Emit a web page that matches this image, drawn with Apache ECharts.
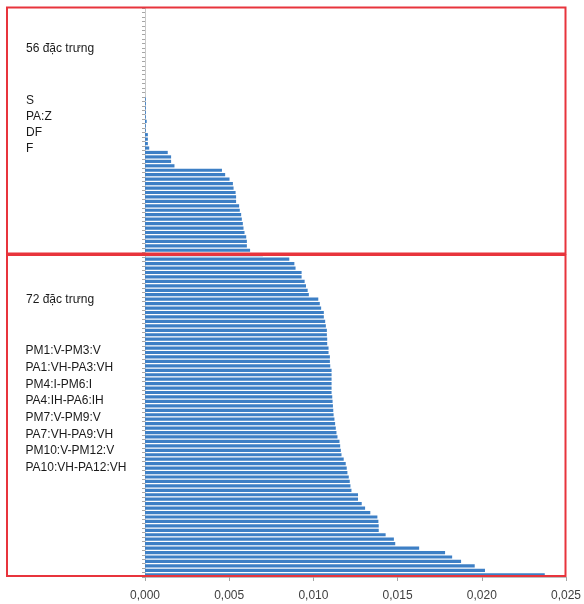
<!DOCTYPE html>
<html>
<head>
<meta charset="utf-8">
<script src="https://cdn.jsdelivr.net/npm/echarts/dist/echarts.min.js"></script>
<style>
  html, body { margin: 0; padding: 0; background: #ffffff; }
  #chart { width: 584px; height: 604px; }
</style>
</head>
<body>
<div id="chart"></div>
<script>
// Feature importance scores, sorted ascending (top of the chart = smallest).
// First block: the 56 weakest features.
const group56 = [
  0, 0, 0, 0, 0, 0, 0, 0, 0, 0,
  0, 0, 0, 0, 0, 0, 0, 0, 0, 0,
  0.00005, 0.00005, 0.00005, 0.00005, 0.00005, 0.00010, 0.00005, 0.00005,
  0.00017, 0.00017, 0.00017, 0.00025,
  0.00135, 0.00155, 0.00155, 0.00175,
  0.00457, 0.00476, 0.00502, 0.00522, 0.00526, 0.00538, 0.00541, 0.00541,
  0.00559, 0.00563, 0.00571, 0.00575, 0.00581, 0.00585, 0.00591, 0.00601,
  0.00605, 0.00605, 0.00624, 0.00700
];
// Second block: the 72 strongest features.
const group72 = [
  0.00857, 0.00887, 0.00894, 0.00930, 0.00930, 0.00948, 0.00956, 0.00966, 0.00973,
  0.01029, 0.01038, 0.01046, 0.01062, 0.01062, 0.01070, 0.01074, 0.01080, 0.01080,
  0.01082, 0.01082, 0.01090, 0.01090, 0.01098, 0.01098, 0.01100, 0.01108, 0.01108,
  0.01108, 0.01108, 0.01108, 0.01108, 0.01112, 0.01114, 0.01116, 0.01118, 0.01120,
  0.01125, 0.01129, 0.01133, 0.01137, 0.01143, 0.01155, 0.01159, 0.01163, 0.01167,
  0.01180, 0.01192, 0.01198, 0.01202, 0.01210, 0.01216, 0.01220, 0.01226, 0.01265,
  0.01265, 0.01287, 0.01307, 0.01338, 0.01380, 0.01386, 0.01388, 0.01388, 0.01429,
  0.01478, 0.01486, 0.01628, 0.01782, 0.01824, 0.01877, 0.01958, 0.02019, 0.02374
];

const values = group56.concat(group72);
const featureIds = values.map((_, i) => 'f' + (i + 1));

// x axis scale
const xMin = 0;
const xMax = 0.025;
const xStep = 0.005;

// Annotation texts for each block
const titleTop = '56 đặc trưng';
const namesTop = ['S', 'PA:Z', 'DF', 'F'];
const titleBottom = '72 đặc trưng';
const namesBottom = [
  'PM1:V-PM3:V', 'PA1:VH-PA3:VH', 'PM4:I-PM6:I', 'PA4:IH-PA6:IH',
  'PM7:V-PM9:V', 'PA7:VH-PA9:VH', 'PM10:V-PM12:V', 'PA10:VH-PA12:VH'
];

const FONT = "'Liberation Sans', Arial, sans-serif";
const RED = '#e8343c';

const chart = echarts.init(document.getElementById('chart'), null, { renderer: 'canvas' });

chart.setOption({
  animation: false,
  backgroundColor: '#ffffff',
  grid: { left: 145, right: 17, top: 8, bottom: 27, containLabel: false },
  xAxis: {
    type: 'value',
    min: xMin,
    max: xMax,
    interval: xStep,
    splitLine: { show: false },
    axisLine: { show: true, lineStyle: { color: '#bfbfbf', width: 1 } },
    axisTick: { show: true, length: 4, lineStyle: { color: '#a6a6a6' } },
    axisLabel: {
      margin: 13,
      fontSize: 12,
      fontFamily: FONT,
      color: '#404040',
      formatter: v => v.toFixed(3).replace('.', ',')
    }
  },
  yAxis: {
    type: 'category',
    inverse: true,
    data: featureIds,
    axisLine: { show: true, lineStyle: { color: '#c8c8c8', width: 1 } },
    axisTick: { show: true, length: 3, interval: 0, lineStyle: { color: '#a6a6a6' } },
    axisLabel: { show: false },
    splitLine: { show: false }
  },
  series: [{
    type: 'bar',
    data: values,
    barCategoryGap: '28%',
    itemStyle: { color: '#3d7fc5' },
    silent: true
  }]
});

// Frames around the two feature blocks, plus their captions.
// The divider runs over the last bar of the first block.
const yAt = i => chart.convertToPixel({ yAxisIndex: 0 }, i);
const split = yAt(group56.length - 1);
const frameLeft = 7;
const frameRight = 565.5;
const frameTop = 7.5;
const frameBottom = 576;

const graphics = [
  {
    type: 'rect', z: 100,
    shape: { x: frameLeft, y: frameTop, width: frameRight - frameLeft, height: split - 1.2 - frameTop },
    style: { fill: 'none', stroke: RED, lineWidth: 2 }
  },
  {
    type: 'rect', z: 100,
    shape: { x: frameLeft, y: split + 0.3, width: frameRight - frameLeft, height: frameBottom - split - 0.3 },
    style: { fill: 'none', stroke: RED, lineWidth: 2 }
  }
];

function addText(text, x, y) {
  graphics.push({
    type: 'text', z: 101, x: x, y: y,
    style: { text: text, fontSize: 12, fontFamily: FONT, fill: '#1a1a1a', verticalAlign: 'middle', align: 'left' }
  });
}

addText(titleTop, 26, 48.5);
namesTop.forEach((t, i) => addText(t, 26, 100.5 + i * 16.1));
addText(titleBottom, 26, 299.5);
namesBottom.forEach((t, i) => addText(t, 25.5, 350.8 + i * 16.7));

chart.setOption({ graphic: graphics });
</script>
</body>
</html>
